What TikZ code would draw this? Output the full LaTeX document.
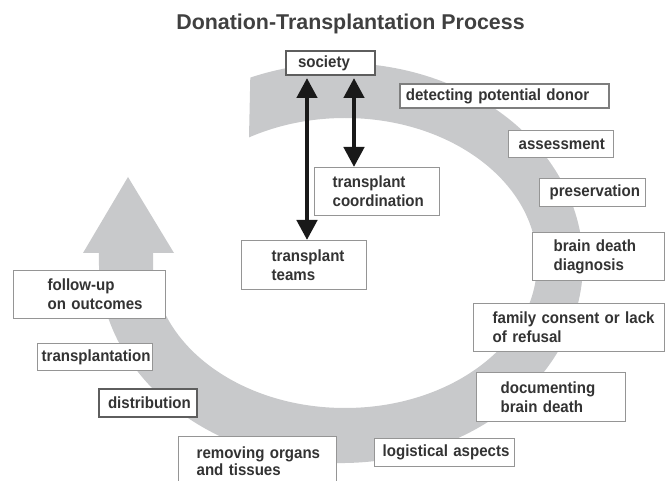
\documentclass[tikz,border=0pt]{standalone}
\usepackage{fontspec}
\setmainfont{Liberation Sans}
\newfontfamily\condfont{Liberation Sans}[FakeStretch=0.93]
\usetikzlibrary{arrows.meta}
\definecolor{bandgray}{HTML}{C8C9CB}
\definecolor{boxgray}{HTML}{959595}
\definecolor{darkbox}{HTML}{5E5E5E}
\definecolor{txtgray}{HTML}{333333}
\definecolor{titlegray}{HTML}{404040}
\tikzset{
  box/.style={draw=boxgray, line width=1.3pt, fill=white, anchor=north west,
    inner sep=0pt, text=txtgray, align=left, font=\condfont\fontsize{16.2}{19}\selectfont\bfseries},
  boxdark/.style={box, draw=darkbox, line width=2pt},
  dblarrow/.style={line width=4.5pt, draw=black!90,
    {Triangle[length=20pt,width=20pt]}-{Triangle[length=20pt,width=20pt]}},
}
\begin{document}
\begin{tikzpicture}[x=1pt,y=-1pt]
\useasboundingbox (0,0) rectangle (665,481);
% grey circular band with arrow head
\fill[bandgray] (250.3,77.6) arc[start angle=-112, end angle=180, x radius=242, y radius=200]
  -- (99,253) -- (83,253) -- (128,177) -- (174,253) -- (153,253) -- (153,263)
  arc[start angle=180, end angle=-120, x radius=192, y radius=145] -- cycle;
% title
\node[anchor=base, text=titlegray, font=\fontsize{21.4}{25}\selectfont\bfseries] (title) at (350.5,29.5) {Donation-Transplantation Process};
% boxes
\node[boxdark, text width=65pt, minimum width=89pt, minimum height=24pt] (society) at (285,50) {\mbox{society}};
\node[box, draw=darkbox!80, line width=1.8pt, text width=197pt, minimum width=209pt, minimum height=24pt] (detect) at (399,83) {\mbox{detecting potential donor}};
\node[box, text width=85pt, minimum width=105pt, minimum height=27pt] (assess) at (508,130) {\mbox{assessment}};
\node[box, text width=86pt, minimum width=106pt, minimum height=28pt] (preserv) at (539,178) {\mbox{preservation}};
\node[box, text width=90pt, minimum width=132pt, minimum height=48pt] (brain) at (532,232) {\mbox{brain death}\\\mbox{diagnosis}};
\node[box, text width=153pt, minimum width=191pt, minimum height=48pt] (family) at (473,303) {\mbox{family consent or lack}\\\mbox{of refusal}};
\node[box, text width=101pt, minimum width=149pt, minimum height=49pt] (document) at (476,372) {\mbox{documenting}\\\mbox{brain death}};
\node[box, text width=124pt, minimum width=140pt, minimum height=28pt] (logist) at (374,438) {\mbox{logistical aspects}};
\node[box, font=\condfont\fontsize{16.2}{17}\selectfont\bfseries, text width=122pt, minimum width=158pt, minimum height=50pt] (remove) at (178,436) {\mbox{removing organs}\\\mbox{and tissues}};
\node[boxdark, text width=80pt, minimum width=98pt, minimum height=28pt] (distrib) at (98,388) {\mbox{distribution}};
\node[box, text width=107pt, minimum width=115pt, minimum height=27pt] (transpl) at (37,343) {\mbox{transplantation}};
\node[box, text width=84pt, minimum width=152pt, minimum height=48pt] (follow) at (13,270) {\mbox{follow-up}\\\mbox{on outcomes}};
\node[box, text width=89pt, minimum width=125pt, minimum height=48pt] (coord) at (314,167) {\mbox{transplant}\\\mbox{coordination}};
\node[box, text width=65pt, minimum width=125pt, minimum height=49pt] (teams) at (241,240) {\mbox{transplant}\\\mbox{teams}};
% arrows
\draw[dblarrow, shorten <=2pt] ([xshift=22pt]society.south west) -- ([xshift=22pt]society.south west |- teams.north);
\draw[dblarrow, shorten <=2pt] ([xshift=69pt]society.south west) -- ([xshift=69pt]society.south west |- coord.north);
\end{tikzpicture}
\end{document}
